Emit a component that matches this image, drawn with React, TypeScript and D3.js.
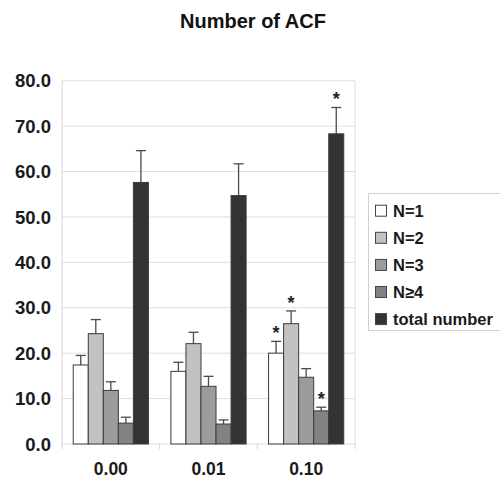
import { useEffect, useRef } from 'react'
import * as d3 from 'd3'

const categories = ['0.00', '0.01', '0.10']
const series = ['N=1', 'N=2', 'N=3', 'N≥4', 'total number']
const colors = ['#ffffff', '#c2c2c2', '#9c9c9c', '#828282', '#333333']

// mean per series, one entry per category
const means = [
  [17.4, 16.0, 20.0],
  [24.3, 22.1, 26.5],
  [11.8, 12.7, 14.7],
  [4.6, 4.4, 7.3],
  [57.6, 54.7, 68.3],
]
// upper error bar value
const errTops = [
  [19.5, 18.0, 22.6],
  [27.4, 24.6, 29.3],
  [13.7, 14.9, 16.6],
  [5.9, 5.3, 8.1],
  [64.6, 61.7, 74.1],
]
// significance markers
const stars = [
  [false, false, true],
  [false, false, true],
  [false, false, false],
  [false, false, true],
  [false, false, true],
]
const yTicks = [0, 10, 20, 30, 40, 50, 60, 70, 80]

export default function App() {
  const ref = useRef<SVGSVGElement>(null)

  useEffect(() => {
    const svg = d3.select(ref.current)
    svg.selectAll('*').remove()
    const width = 500
    const height = 479
    const margin = { top: 80.7, right: 145, bottom: 35, left: 62 }
    const font = "'Liberation Sans', Arial, sans-serif"

    svg.append('rect').attr('width', width).attr('height', height).attr('fill', '#fff')

    const y = d3.scaleLinear().domain([0, 80]).range([height - margin.bottom, margin.top])
    const x0 = d3
      .scaleBand()
      .domain(categories)
      .range([margin.left, width - margin.right])
      .paddingInner(0.23)
      .paddingOuter(0.115)
    const x1 = d3.scaleBand().domain(series).range([0, x0.bandwidth()]).padding(0)

    // gridlines
    svg
      .append('g')
      .selectAll('line')
      .data(yTicks)
      .enter()
      .append('line')
      .attr('x1', margin.left)
      .attr('x2', width - margin.right)
      .attr('y1', d => y(d))
      .attr('y2', d => y(d))
      .attr('stroke', '#dedede')
      .attr('stroke-width', 1)

    // frame sides
    svg
      .append('line')
      .attr('x1', margin.left)
      .attr('x2', margin.left)
      .attr('y1', y(80))
      .attr('y2', y(0))
      .attr('stroke', '#d6d6d6')
    svg
      .append('line')
      .attr('x1', width - margin.right)
      .attr('x2', width - margin.right)
      .attr('y1', y(80))
      .attr('y2', y(0))
      .attr('stroke', '#dedede')

    // y tick labels
    svg
      .append('g')
      .selectAll('text')
      .data(yTicks)
      .enter()
      .append('text')
      .attr('x', margin.left - 11)
      .attr('y', d => y(d))
      .attr('dy', '0.36em')
      .attr('text-anchor', 'end')
      .attr('font-family', font)
      .attr('font-weight', 'bold')
      .attr('font-size', 18.5)
      .attr('fill', '#1a1a1a')
      .text(d => d.toFixed(1))

    // x axis ticks
    const boundaries = [0, 1, 2, 3].map(i => margin.left + i * x0.step())
    svg
      .append('g')
      .selectAll('line')
      .data(boundaries)
      .enter()
      .append('line')
      .attr('x1', d => d)
      .attr('x2', d => d)
      .attr('y1', y(0))
      .attr('y2', y(0) + 5)
      .attr('stroke', '#d0d0d0')

    svg
      .append('g')
      .selectAll('text')
      .data(categories)
      .enter()
      .append('text')
      .attr('x', d => (x0(d) as number) + x0.bandwidth() / 2)
      .attr('y', 475)
      .attr('text-anchor', 'middle')
      .attr('font-family', font)
      .attr('font-weight', 'bold')
      .attr('font-size', 17.5)
      .attr('fill', '#1a1a1a')
      .text(d => d)

    const points = series.flatMap((s, si) =>
      categories.map((c, ci) => ({ s, si, c, v: means[si][ci], e: errTops[si][ci], star: stars[si][ci] }))
    )
    const cx = (d: any) => (x0(d.c) as number) + (x1(d.s) as number) + x1.bandwidth() / 2

    // error bars
    const err = svg.append('g').attr('stroke', '#4a4a4a').attr('stroke-width', 1.3)
    err
      .selectAll('line.v')
      .data(points)
      .enter()
      .append('line')
      .attr('x1', cx)
      .attr('x2', cx)
      .attr('y1', d => y(d.v))
      .attr('y2', d => y(d.e))
    err
      .selectAll('line.cap')
      .data(points)
      .enter()
      .append('line')
      .attr('x1', d => cx(d) - 5)
      .attr('x2', d => cx(d) + 5)
      .attr('y1', d => y(d.e))
      .attr('y2', d => y(d.e))

    // bars
    svg
      .append('g')
      .selectAll('rect')
      .data(points)
      .enter()
      .append('rect')
      .attr('x', d => (x0(d.c) as number) + (x1(d.s) as number))
      .attr('width', x1.bandwidth())
      .attr('y', d => y(d.v))
      .attr('height', d => y(0) - y(d.v))
      .attr('fill', d => colors[d.si])
      .attr('stroke', '#3c3c3c')
      .attr('stroke-width', 1)

    // stars
    svg
      .append('g')
      .selectAll('text')
      .data(points.filter(d => d.star))
      .enter()
      .append('text')
      .attr('x', cx)
      .attr('y', d => y(d.e) - 2)
      .attr('text-anchor', 'middle')
      .attr('font-family', font)
      .attr('font-weight', 'bold')
      .attr('font-size', 18)
      .attr('fill', '#222')
      .text('*')

    // title
    svg
      .append('text')
      .attr('x', 253)
      .attr('y', 28)
      .attr('text-anchor', 'middle')
      .attr('font-family', font)
      .attr('font-weight', 'bold')
      .attr('font-size', 20)
      .attr('fill', '#111')
      .text('Number of ACF')

    // legend
    const lg = svg.append('g').attr('transform', 'translate(368.5,193.5)')
    lg.append('rect').attr('width', 140).attr('height', 137).attr('fill', '#fff').attr('stroke', '#d0d0d0')
    const items = lg
      .selectAll('g')
      .data(series)
      .enter()
      .append('g')
      .attr('transform', (d, i) => `translate(0,${17.2 + i * 27.1})`)
    items
      .append('rect')
      .attr('x', 7)
      .attr('y', -5.5)
      .attr('width', 11)
      .attr('height', 11)
      .attr('fill', (d, i) => colors[i])
      .attr('stroke', '#444')
    items
      .append('text')
      .attr('x', 24.5)
      .attr('dy', '0.36em')
      .attr('font-family', font)
      .attr('font-weight', 'bold')
      .attr('font-size', 16.5)
      .attr('fill', '#1a1a1a')
      .text(d => d)
  }, [])

  return (
    <svg
      ref={ref}
      width={500}
      height={479}
      viewBox="0 0 500 479"
      style={{ position: 'absolute', left: 0, top: 0, display: 'block' }}
    />
  )
}
